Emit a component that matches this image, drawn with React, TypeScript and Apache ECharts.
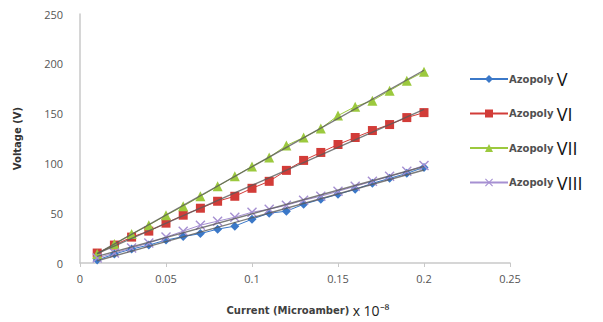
import React, { useEffect, useRef } from "react";
import * as echarts from "echarts";

const currents = [0.01, 0.02, 0.03, 0.04, 0.05, 0.06, 0.07, 0.08, 0.09, 0.1, 0.11, 0.12, 0.13, 0.14, 0.15, 0.16, 0.17, 0.18, 0.19, 0.2];
const azopolyV = [3, 9, 14, 18, 23, 26.5, 29.5, 34, 37, 44, 50, 52, 59, 64, 69, 74, 80, 85, 90, 96];
const azopolyVI = [10, 18, 26, 32, 40, 48, 55, 62, 67, 75, 82, 93, 103, 111, 119, 126, 133, 139, 146, 151];
const azopolyVII = [9, 19, 29, 38, 48, 57, 67, 77, 87, 97, 106, 118, 126, 135, 148, 157, 163, 173, 183, 192];
const azopolyVIII = [5, 10, 15, 20, 26, 32, 38, 42, 46, 51, 54, 58, 63, 67, 72, 77, 82, 87, 92, 98];
const seriesNames = ["V", "VI", "VII", "VIII"];
const xTicks = [0, 0.05, 0.1, 0.15, 0.2, 0.25];
const yTicks = [0, 50, 100, 150, 200, 250];

const colors = ["#3b78c8", "#d23c38", "#9cc93e", "#a690d2"];
const symbols = [
  "diamond",
  "rect",
  "triangle",
  "path://M1,0L5,4L9,0L10,1L6,5L10,9L9,10L5,6L1,10L0,9L4,5L0,1Z",
];
const symbolSizes = [9, 9, 10, 10];

function trend(xs: number[], ys: number[]) {
  const n = xs.length;
  const mx = xs.reduce((a, b) => a + b, 0) / n;
  const my = ys.reduce((a, b) => a + b, 0) / n;
  let sxy = 0;
  let sxx = 0;
  for (let i = 0; i < n; i++) {
    sxy += (xs[i] - mx) * (ys[i] - my);
    sxx += (xs[i] - mx) * (xs[i] - mx);
  }
  const b = sxy / sxx;
  const a = my - b * mx;
  const x0 = xs[0];
  const x1 = xs[n - 1];
  return [
    [x0, a + b * x0],
    [x1, a + b * x1],
  ];
}

export default function App() {
  const ref = useRef<HTMLDivElement>(null);
  useEffect(() => {
    document.body.style.margin = "0";
    if (!ref.current) return;
    const chart = echarts.init(ref.current, undefined, { renderer: "svg" });
    const all = [azopolyV, azopolyVI, azopolyVII, azopolyVIII];
    const mainSeries: any[] = all.map((vals, k) => ({
      name: seriesNames[k],
      type: "line",
      data: currents.map((c, i) => [c, vals[i]]),
      symbol: symbols[k],
      symbolSize: symbolSizes[k],
      showSymbol: true,
      lineStyle: { color: colors[k], width: 1 },
      itemStyle: { color: colors[k], borderWidth: 0 },
      z: 3,
    }));
    const trendSeries: any[] = all.map((vals) => ({
      type: "line",
      data: trend(currents, vals),
      symbol: "none",
      lineStyle: { color: "rgba(90,90,90,0.8)", width: 1.4 },
      silent: true,
      z: 4,
    }));
    chart.setOption({
      animation: false,
      backgroundColor: "#ffffff",
      grid: { left: 80, top: 14, width: 430, height: 254 },
      xAxis: {
        type: "value",
        min: 0,
        max: 0.25,
        interval: 0.05,
        name: "{a|Current (Microamber)} {b|x 10⁻⁸}",
        nameLocation: "middle",
        nameGap: 40,
        nameTextStyle: {
          padding: [0, 0, 0, 26],
          rich: {
            a: { fontFamily: "DejaVu Sans", fontWeight: "bold", fontSize: 10, color: "#404040" },
            b: { fontFamily: "Liberation Sans Narrow, Open Sans", fontSize: 14, color: "#222222" },
          },
        },
        axisLine: { show: true, lineStyle: { color: "#c8c8c8", width: 1.5 } },
        axisTick: { show: true, length: 4, inside: false, lineStyle: { color: "#c8c8c8" } },
        axisLabel: {
          fontFamily: "Open Sans",
          fontSize: 11,
          color: "#555555",
          margin: 10,
          formatter: (v: number) => {
            const t = xTicks.find((x) => Math.abs(x - v) < 1e-9);
            return t === undefined ? "" : String(t);
          },
        },
        splitLine: { show: false },
      },
      yAxis: {
        type: "value",
        min: 0,
        max: 250,
        interval: 50,
        name: "Voltage (V)",
        nameLocation: "middle",
        nameGap: 58,
        nameTextStyle: { fontFamily: "DejaVu Sans", fontWeight: "bold", fontSize: 10, color: "#333333" },
        axisLine: { show: true, lineStyle: { color: "#c8c8c8", width: 1.5 } },
        axisTick: { show: false },
        axisLabel: {
          fontFamily: "Open Sans",
          fontSize: 11,
          color: "#555555",
          margin: 17,
          formatter: (v: number) => (yTicks.includes(v) ? String(v) : ""),
        },
        splitLine: { show: false },
      },
      legend: {
        orient: "vertical",
        left: 464,
        top: 65,
        itemWidth: 38,
        itemHeight: 10,
        itemGap: 16.5,
        data: seriesNames,
        formatter: (name: string) => `{a|Azopoly} {b|${name}}`,
        textStyle: {
          padding: [0, 0, 0, -4],
          rich: {
            a: { fontFamily: "DejaVu Sans", fontWeight: "bold", fontSize: 10, color: "#505050", lineHeight: 22 },
            b: { fontFamily: "Liberation Sans Narrow, Open Sans", fontSize: 18, color: "#111111", lineHeight: 22 },
          },
        },
      },
      series: [...mainSeries, ...trendSeries],
    });
    return () => chart.dispose();
  }, []);
  return <div ref={ref} style={{ width: 603, height: 322 }} />;
}
